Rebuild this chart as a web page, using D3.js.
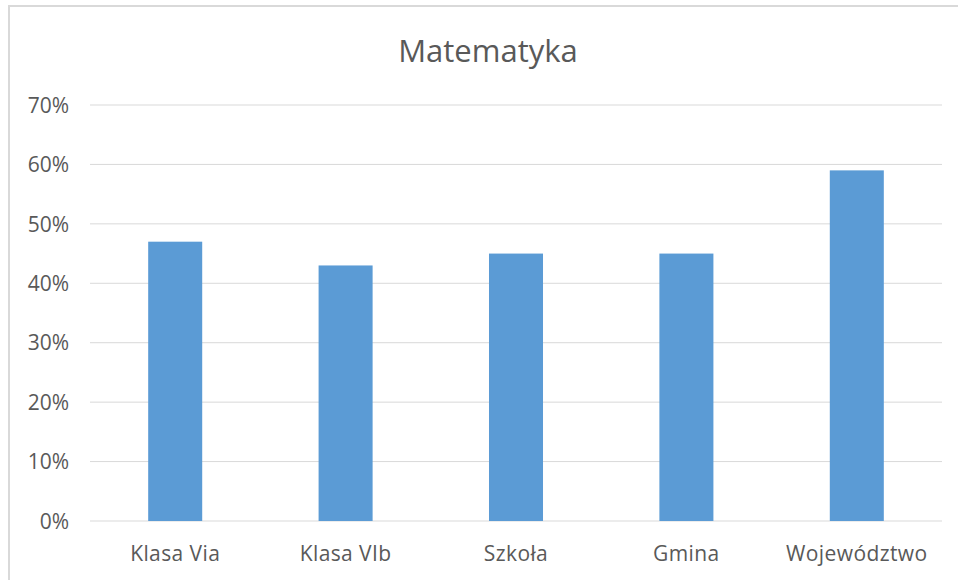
<!DOCTYPE html>
<meta charset="utf-8">
<style>
    body { margin: 0; background: #fff; }
    svg { display: block; }
    text { font-family: "Open Sans", sans-serif; fill: #595959; }
</style>
<svg width="958" height="580"></svg>
<script src="https://d3js.org/d3.v7.min.js"></script>
<script>
    var categories = ["Klasa Via", "Klasa VIb", "Szkoła", "Gmina", "Województwo"];
    var values = [47, 43, 45, 45, 59];
    var yTicks = [0, 10, 20, 30, 40, 50, 60, 70];

    var svg = d3.select("svg");
    var plotLeft = 90, plotRight = 942, plotTop = 105, plotBottom = 521;

    // chart frame, cut off on the right and bottom like the screenshot
    svg.append("rect")
        .attr("x", 9).attr("y", 6)
        .attr("width", 980).attr("height", 600)
        .attr("fill", "none")
        .attr("stroke", "#d9d9d9")
        .attr("stroke-width", 2);

    var x = d3.scaleBand()
        .domain(categories)
        .range([plotLeft, plotRight])
        .paddingInner(0.683)
        .paddingOuter(0.3415);

    var y = d3.scaleLinear()
        .domain([0, 70])
        .range([plotBottom, plotTop]);

    svg.append("g")
        .selectAll("line")
        .data(yTicks)
        .enter().append("line")
        .attr("x1", plotLeft).attr("x2", plotRight)
        .attr("y1", function(d) { return y(d); })
        .attr("y2", function(d) { return y(d); })
        .attr("stroke", "#d9d9d9")
        .attr("stroke-width", 1);

    svg.append("g")
        .selectAll("text")
        .data(yTicks)
        .enter().append("text")
        .attr("x", 69)
        .attr("y", function(d) { return y(d); })
        .attr("dy", "0.37em")
        .attr("text-anchor", "end")
        .attr("font-size", 21)
        .text(function(d) { return d + "%"; });

    svg.append("g")
        .selectAll("rect")
        .data(values)
        .enter().append("rect")
        .attr("x", function(d, i) { return x(categories[i]); })
        .attr("width", x.bandwidth())
        .attr("y", function(d) { return y(d); })
        .attr("height", function(d) { return y(0) - y(d); })
        .attr("fill", "#5b9bd5");

    svg.append("g")
        .selectAll("text")
        .data(categories)
        .enter().append("text")
        .attr("x", function(d) { return x(d) + x.bandwidth() / 2; })
        .attr("y", 561)
        .attr("text-anchor", "middle")
        .attr("font-size", 21)
        .attr("letter-spacing", 0.4)
        .text(function(d) { return d; });

    svg.append("text")
        .attr("x", 488)
        .attr("y", 62)
        .attr("text-anchor", "middle")
        .attr("font-size", 31)
        .text("Matematyka");
</script>
